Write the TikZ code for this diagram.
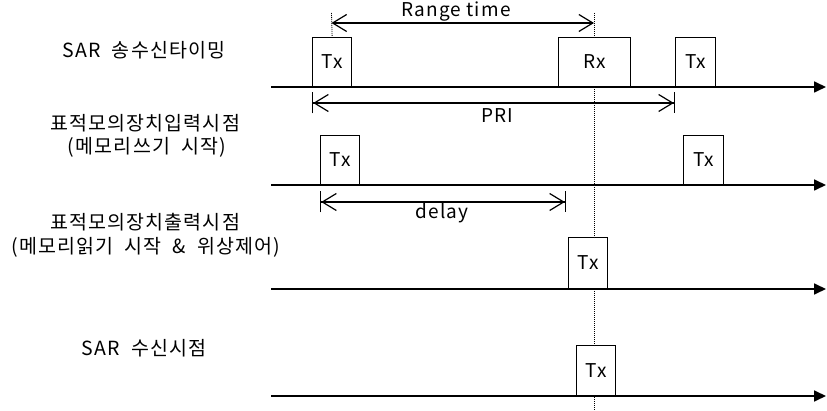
\documentclass[tikz,border=0pt]{standalone}
\usepackage{fontspec}
\setmainfont{Noto Sans CJK KR}[LetterSpace=6]
\newfontfamily\krfont{Noto Sans CJK KR}[LetterSpace=6, WordSpace=2]
\usetikzlibrary{arrows.meta}

\tikzset{
  pulse/.style={draw, line width=1.3pt, fill=white, anchor=south west,
    inner sep=0pt, minimum width=#1, minimum height=49pt},
  pulse/.default=39pt,
  axis/.style={line width=1.7pt, -{Triangle[length=12pt,width=11pt]}},
  span/.style={line width=1.2pt,
    {Straight Barb[length=14pt,width=17pt]}-{Straight Barb[length=14pt,width=17pt]}},
  barspan/.style={line width=1.2pt,
    {Bar[width=21pt,sep=0pt] Straight Barb[length=14pt,width=17pt,sep=0pt]}-{Straight Barb[length=14pt,width=17pt,sep=0pt] Bar[width=21pt,sep=0pt]}},
  mark line/.style={line width=0.8pt, dash pattern=on 1pt off 1pt},
  lbl/.style={font=\fontsize{19}{22}\selectfont, inner sep=0pt},
  title/.style={font=\krfont\fontsize{19.5}{23}\selectfont, inner sep=0pt}
}

\begin{document}
\begin{tikzpicture}[x=1pt, y=-1pt]
  \useasboundingbox (0,0) rectangle (827,411);

  % echo reference line
  \coordinate (m0) at (594,13);
  \coordinate (m1) at (594,411);
  \draw[mark line] (m0) -- (m1);

  % time axes
  \coordinate (a1) at (271,87);  \coordinate (b1) at (826,87);
  \coordinate (a2) at (271,185); \coordinate (b2) at (826,185);
  \coordinate (a3) at (271,289); \coordinate (b3) at (826,289);
  \coordinate (a4) at (271,396); \coordinate (b4) at (826,396);
  \draw[axis] (a1) -- (b1);
  \draw[axis] (a2) -- (b2);
  \draw[axis] (a3) -- (b3);
  \draw[axis] (a4) -- (b4);

  % pulses
  \node[pulse, lbl] (tx1) at (312,87) {Tx};
  \node[pulse=72pt, lbl] (rx1) at (558,87) {Rx};
  \node[pulse=40pt, lbl] (tx2) at (675,87) {Tx};
  \node[pulse, lbl] (tx3) at (320,185) {Tx};
  \node[pulse=40pt, lbl] (tx4) at (683,185) {Tx};
  \node[pulse, lbl, minimum height=51pt] (tx5) at (568,289) {Tx};
  \node[pulse, lbl, minimum height=50pt] (tx6) at (576,396) {Tx};

  % range time
  \coordinate (r0) at (331.5,13);
  \draw[mark line] (r0) -- (tx1.north);
  \coordinate (r1) at (331.5,23);
  \coordinate (r2) at (594,23);
  \draw[span] (r1) -- (r2);
  \node[lbl] (range) at (456,12) {Range time};

  % PRI
  \coordinate (p1) at (312,103);
  \coordinate (p2) at (675,103);
  \draw[barspan] (p1) -- (p2);
  \node[lbl] (pri) at (497,116) {PRI};

  % delay
  \coordinate (d1) at (320,202);
  \coordinate (d2) at (566,202);
  \draw[barspan] (d1) -- (d2);
  \node[lbl] (delay) at (442,213) {delay};

  % row titles
  \node[title] (t1) at (144,50) {SAR 송수신타이밍};
  \node[title] (t2) at (145,123) {표적모의장치입력시점};
  \node[title] (t2b) at (147,147) {(메모리쓰기 시작)};
  \node[title] (t3) at (145,222) {표적모의장치출력시점};
  \node[title] (t3b) at (146,247) {(메모리읽기 시작 \& 위상제어)};
  \node[title] (t4) at (144,348) {SAR 수신시점};
\end{tikzpicture}
\end{document}
